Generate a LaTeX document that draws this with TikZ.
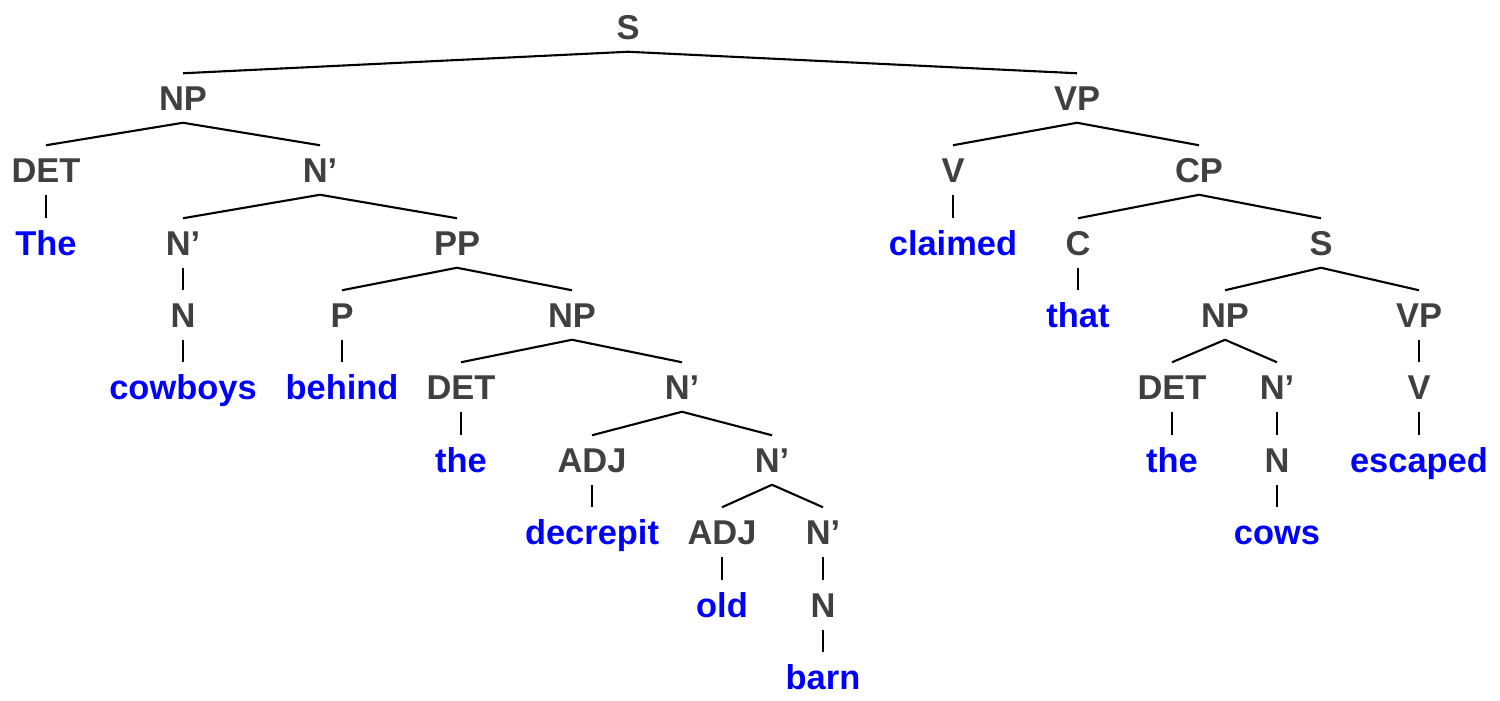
\documentclass[tikz,border=0pt]{standalone}
\usepackage{fontspec}
\setmainfont{Liberation Sans}
\usepackage{tikz}

\definecolor{labelgray}{RGB}{64,64,64}
\definecolor{wordblue}{RGB}{0,0,255}

\begin{document}
\begin{tikzpicture}[cat_node/.style={font=\bfseries\fontsize{9.8}{11}\selectfont,text=labelgray,inner sep=0pt,outer sep=0.125cm,text height=0.245cm,text depth=0pt},
    word_node/.style={cat_node,text=wordblue}]

    \useasboundingbox (0,0) rectangle (15,-7.01);

    \node[cat_node] (s) at (6.28,-0.27) {S};

    \node[cat_node] (np) at (1.83,-0.98) {NP};
    \node[cat_node] (vp) at (10.77,-0.98) {VP};

    \node[cat_node] (det1) at (0.46,-1.70) {DET};
    \node[cat_node] (nb1) at (3.20,-1.70) {N'};
    \node[cat_node] (v1) at (9.53,-1.70) {V};
    \node[cat_node] (cp) at (11.99,-1.70) {CP};

    \node[word_node] (the1) at (0.46,-2.43) {The};
    \node[cat_node] (nb2) at (1.83,-2.43) {N'};
    \node[cat_node] (pp) at (4.57,-2.43) {PP};
    \node[word_node] (claimed) at (9.53,-2.43) {claimed};
    \node[cat_node] (c) at (10.78,-2.43) {C};
    \node[cat_node] (s2) at (13.21,-2.43) {S};

    \node[cat_node] (n1) at (1.83,-3.15) {N};
    \node[cat_node] (p) at (3.42,-3.15) {P};
    \node[cat_node] (np2) at (5.72,-3.15) {NP};
    \node[word_node] (that) at (10.78,-3.15) {that};
    \node[cat_node] (np3) at (12.25,-3.15) {NP};
    \node[cat_node] (vp2) at (14.19,-3.15) {VP};

    \node[word_node] (cowboys) at (1.83,-3.87) {cowboys};
    \node[word_node] (behind) at (3.42,-3.87) {behind};
    \node[cat_node] (det2) at (4.61,-3.87) {DET};
    \node[cat_node] (nb3) at (6.82,-3.87) {N'};
    \node[cat_node] (det3) at (11.72,-3.87) {DET};
    \node[cat_node] (nb6) at (12.77,-3.87) {N'};
    \node[cat_node] (v2) at (14.19,-3.87) {V};

    \node[word_node] (the2) at (4.61,-4.60) {the};
    \node[cat_node] (adj1) at (5.92,-4.60) {ADJ};
    \node[cat_node] (nb4) at (7.72,-4.60) {N'};
    \node[word_node] (the3) at (11.72,-4.60) {the};
    \node[cat_node] (n3) at (12.77,-4.60) {N};
    \node[word_node] (escaped) at (14.19,-4.60) {escaped};

    \node[word_node] (decrepit) at (5.92,-5.32) {decrepit};
    \node[cat_node] (adj2) at (7.22,-5.32) {ADJ};
    \node[cat_node] (nb5) at (8.23,-5.32) {N'};
    \node[word_node] (cows) at (12.77,-5.32) {cows};

    \node[word_node] (old) at (7.22,-6.05) {old};
    \node[cat_node] (n2) at (8.23,-6.05) {N};

    \node[word_node] (barn) at (8.23,-6.77) {barn};

  \path[line width=0.6pt]
    (s.south) edge (np.north)
    (s.south) edge (vp.north)
    % subject
    (np.south) edge (det1.north)
    (np.south) edge (nb1.north)
    (det1.south) edge (the1.north)
    (nb1.south) edge (nb2.north)
    (nb1.south) edge (pp.north)
    (nb2.south) edge (n1.north)
    (n1.south) edge (cowboys.north)
    (pp.south) edge (p.north)
    (pp.south) edge (np2.north)
    (p.south) edge (behind.north)
    (np2.south) edge (det2.north)
    (np2.south) edge (nb3.north)
    (det2.south) edge (the2.north)
    (nb3.south) edge (adj1.north)
    (nb3.south) edge (nb4.north)
    (adj1.south) edge (decrepit.north)
    (nb4.south) edge (adj2.north)
    (nb4.south) edge (nb5.north)
    (adj2.south) edge (old.north)
    (nb5.south) edge (n2.north)
    (n2.south) edge (barn.north);

  \path[line width=0.6pt]
    % predicate
    (vp.south) edge (v1.north)
    (vp.south) edge (cp.north)
    (v1.south) edge (claimed.north)
    (cp.south) edge (c.north)
    (cp.south) edge (s2.north)
    (c.south) edge (that.north)
    (s2.south) edge (np3.north)
    (s2.south) edge (vp2.north)
    (np3.south) edge (det3.north)
    (np3.south) edge (nb6.north)
    (det3.south) edge (the3.north)
    (nb6.south) edge (n3.north)
    (n3.south) edge (cows.north)
    (vp2.south) edge (v2.north)
    (v2.south) edge (escaped.north);
\end{tikzpicture}
\end{document}
